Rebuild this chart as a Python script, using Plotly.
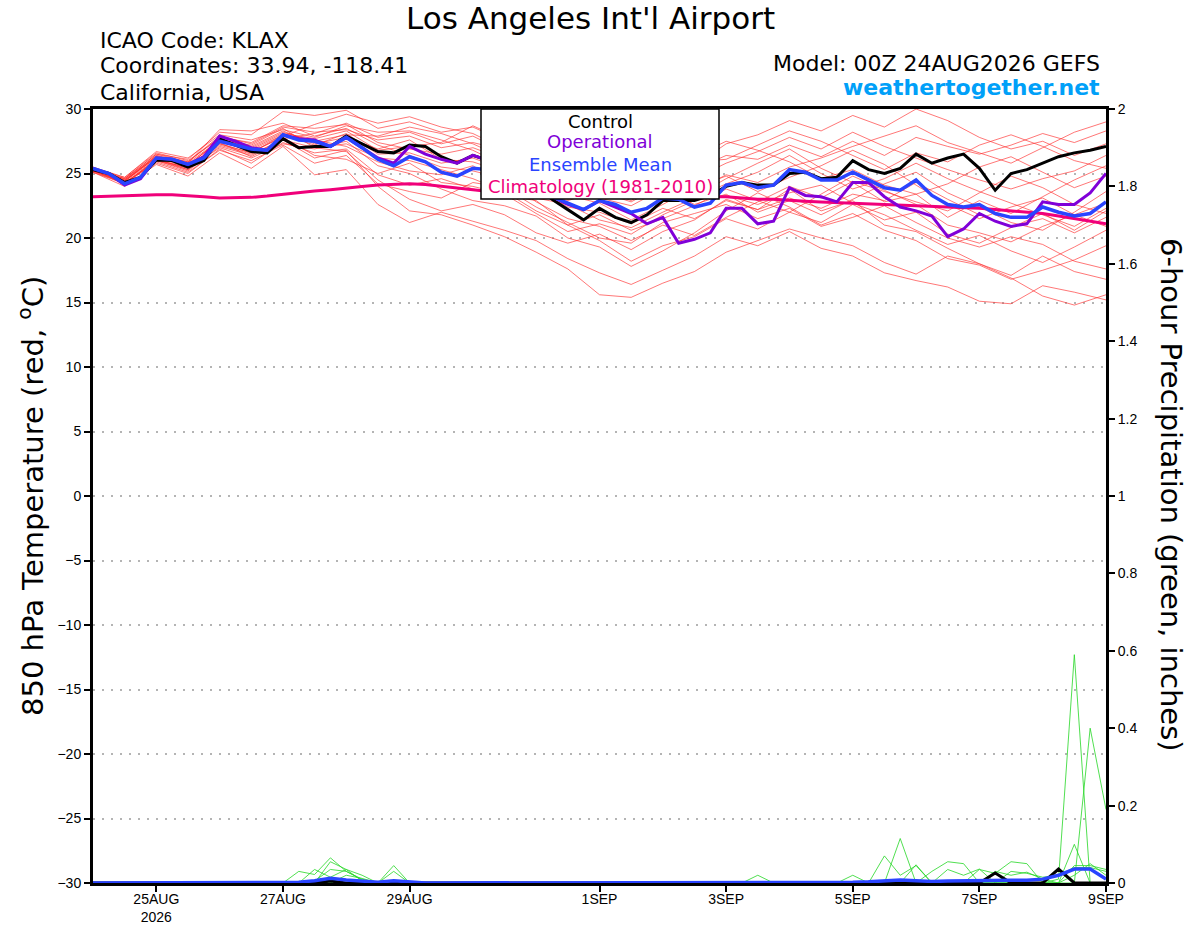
import pandas as pd
import plotly.graph_objects as go

# ---------------- time axis (6-hourly, 00Z 24AUG2026 -> 00Z 09SEP2026) ----------------
times = pd.date_range("2026-08-24 00:00", periods=65, freq="6h")
times12 = times[::2]

tick_dates = ["2026-08-25", "2026-08-27", "2026-08-29", "2026-09-01",
              "2026-09-03", "2026-09-05", "2026-09-07", "2026-09-09"]
tick_labels = ["25AUG<br>2026", "27AUG", "29AUG", "1SEP", "3SEP", "5SEP", "7SEP", "9SEP"]

# ---------------- 850 hPa temperature (C), 6-hourly ----------------
control = [25.3, 25.0, 24.3, 24.7, 26.05, 26.0, 25.5, 26.0, 27.7, 27.2,
           26.7, 26.6, 27.7, 27.0, 27.1, 27.1, 27.9, 27.3, 26.7, 26.6,
           27.2, 27.1, 26.3, 25.8, 26.4, 26.0, 25.4, 24.8, 24.0, 23.0,
           22.2, 21.4, 22.3, 21.6, 21.2, 21.8, 22.9, 22.9, 22.9, 23.3,
           24.0, 24.3, 24.1, 24.1, 25.0, 25.1, 24.6, 24.7, 26.0, 25.3,
           25.0, 25.4, 26.5, 25.8, 26.2, 26.5, 25.4, 23.7, 25.0, 25.3,
           25.8, 26.3, 26.6, 26.8, 27.1]

operational = [25.4, 25.0, 24.1, 24.6, 26.2, 26.1, 25.7, 26.3, 27.9, 27.5,
               27.0, 26.8, 28.0, 27.7, 27.6, 27.1, 27.8, 27.0, 26.2, 25.8,
               27.1, 26.5, 26.1, 25.8, 26.4, 26.0, 25.5, 24.8, 24.0, 23.2,
               22.6, 22.2, 22.9, 22.4, 21.9, 21.1, 21.6, 19.6, 19.9, 20.4,
               22.3, 22.3, 21.1, 21.3, 23.9, 23.3, 23.2, 22.8, 24.3, 24.3,
               23.2, 22.4, 22.1, 21.7, 20.1, 20.7, 21.9, 21.3, 20.9, 21.1,
               22.8, 22.6, 22.6, 23.5, 25.0]

ens_mean = [25.4, 25.0, 24.2, 24.7, 26.2, 26.1, 25.7, 26.2, 27.5, 27.2,
            26.9, 26.8, 28.0, 27.6, 27.5, 27.1, 27.8, 27.0, 26.1, 25.6,
            26.3, 25.9, 25.1, 24.8, 25.4, 25.3, 24.9, 24.4, 23.8, 23.2,
            22.7, 22.2, 22.9, 22.6, 22.0, 22.3, 23.1, 23.0, 22.4, 22.7,
            24.1, 24.3, 23.9, 24.1, 25.3, 25.1, 24.5, 24.5, 25.1, 24.5,
            23.9, 23.7, 24.5, 23.3, 22.6, 22.4, 22.6, 21.9, 21.6, 21.6,
            22.4, 22.0, 21.7, 21.9, 22.8]

climatology = [23.2, 23.25, 23.3, 23.3, 23.35, 23.35, 23.3, 23.2, 23.1, 23.1,
               23.15, 23.25, 23.4, 23.5, 23.65, 23.75, 23.9, 24.0, 24.1, 24.15,
               24.2, 24.15, 24.0, 23.85, 23.7, 23.6, 23.55, 23.5, 23.45, 23.4,
               23.35, 23.3, 23.3, 23.3, 23.25, 23.2, 23.2, 23.2, 23.2, 23.2,
               23.2, 23.1, 23.0, 23.0, 22.9, 22.85, 22.8, 22.75, 22.7, 22.7,
               22.6, 22.55, 22.5, 22.45, 22.4, 22.35, 22.3, 22.2, 22.1, 22.0,
               21.9, 21.7, 21.5, 21.3, 21.1]

# ---------------- ensemble members (12-hourly) ----------------
m01 = [25.2,24.5,26.4,25.9,27.9,27.3,28.6,28.2,28.4,27.6,27.9,27.0,27.4,26.8,25.9,24.8,24.2,23.5,24.6,25.3,26.4,26.1,27.2,26.3,27.5,26.4,27.8,27.1,26.5,27.2,28.1,27.4,28.3]
m02 = [25.5,24.1,26.0,25.3,27.2,26.5,27.6,27.0,26.7,24.5,23.0,22.1,22.6,21.8,20.4,19.6,20.3,19.1,20.5,21.4,23.0,22.2,23.8,22.1,22.9,21.0,20.5,19.2,18.0,17.1,18.6,17.4,16.8]
m03 = [25.3,24.6,26.5,26.1,28.2,28.0,29.8,29.5,29.9,28.5,29.0,28.2,28.6,27.5,26.0,25.1,25.9,24.7,26.2,25.6,27.3,28.0,29.1,28.3,29.5,28.6,30.0,29.1,27.8,26.9,27.5,26.4,27.3]
m04 = [25.1,24.3,25.8,25.0,26.9,25.8,27.4,26.6,26.9,24.9,24.1,24.6,23.8,23.3,22.9,21.0,19.8,18.2,19.4,20.1,21.5,20.7,22.0,21.2,22.6,21.4,22.0,20.3,19.6,20.8,21.9,20.6,22.1]
m05 = [25.4,24.4,26.3,25.6,27.6,27.1,28.3,27.3,27.8,26.9,27.6,26.1,25.9,25.1,23.6,22.9,23.6,22.8,24.1,23.2,24.6,25.8,26.9,25.4,24.3,22.8,23.4,21.6,22.9,21.9,23.2,24.5,25.6]
m06 = [25.2,24.2,26.1,25.4,27.3,26.6,27.9,28.8,29.6,28.9,29.4,28.6,28.1,26.9,25.3,23.8,23.1,22.5,23.8,22.6,23.4,22.0,22.9,21.8,23.0,24.2,25.1,23.5,22.4,21.2,20.6,22.0,23.6]
m07 = [25.3,24.5,26.2,25.8,28.4,28.3,28.9,27.9,28.5,27.2,26.4,25.5,25.2,24.6,22.8,21.5,20.9,19.8,21.0,20.2,21.6,22.8,24.0,23.1,24.4,23.6,22.8,22.1,23.5,24.8,23.9,22.6,21.9]
m08 = [25.4,24.7,26.6,26.0,27.7,27.0,28.2,27.5,28.0,27.9,28.6,28.1,27.3,26.2,24.9,24.0,24.8,23.9,25.2,24.6,25.8,26.7,27.8,26.9,28.2,27.1,26.2,25.3,24.5,23.8,24.6,25.2,26.4]
m09 = [25.1,24.0,25.7,24.8,26.6,25.4,27.1,24.9,25.3,22.6,21.2,22.0,21.3,20.6,19.8,18.4,17.3,16.4,17.5,18.6,20.1,19.4,20.5,19.2,18.6,17.3,16.7,16.2,15.1,14.9,16.3,15.8,15.2]
m10 = [25.3,24.3,26.0,25.5,27.4,26.9,28.1,27.7,28.3,26.8,27.1,27.4,28.7,27.6,26.4,25.2,24.6,23.8,25.1,26.3,27.5,26.8,25.9,24.6,25.3,24.1,23.4,24.2,25.5,26.3,25.1,23.9,24.8]
m11 = [25.2,24.4,26.3,25.7,27.5,26.7,27.8,26.4,26.1,25.0,25.8,24.3,24.0,23.4,21.9,20.5,21.1,20.3,21.8,22.9,23.3,22.6,23.5,24.1,22.7,21.8,20.6,19.5,20.2,19.0,18.1,19.3,20.6]
m12 = [25.4,24.6,26.5,25.9,27.8,27.4,28.7,28.5,28.8,27.4,26.9,26.5,27.0,26.1,24.6,23.3,22.7,21.4,22.6,23.9,24.8,23.6,24.7,25.6,26.8,25.7,24.1,22.6,21.5,22.4,23.1,21.8,20.9]
m13 = [25.3,24.2,26.1,25.3,27.0,26.2,27.3,26.9,27.5,25.6,25.0,23.8,22.9,22.5,21.7,20.0,19.3,17.8,19.0,20.4,22.1,23.5,22.4,21.0,21.9,20.6,19.8,18.4,17.9,16.8,17.5,18.3,19.4]
m14 = [25.5,24.7,26.7,26.2,28.0,27.6,28.4,27.8,28.7,28.2,28.3,27.6,26.8,25.6,24.2,23.0,23.8,22.9,24.4,23.6,24.9,24.3,25.5,26.2,27.1,27.9,28.7,27.4,26.6,25.8,27.0,28.2,29.0]
m15 = [25.2,24.3,25.9,25.1,26.8,26.0,27.2,25.8,26.4,24.2,23.6,23.1,24.3,23.9,22.4,21.2,20.0,19.6,21.2,21.9,22.6,21.5,22.3,20.9,21.6,22.5,21.2,20.0,19.3,20.1,19.5,18.2,17.6]
m16 = [25.4,24.4,26.4,25.6,27.6,26.8,28.0,27.2,28.1,26.5,26.6,25.8,26.2,25.3,23.8,22.4,22.0,21.1,22.3,21.5,22.9,22.2,23.1,22.3,23.4,22.9,24.3,23.0,21.8,20.9,21.5,20.4,21.6]
m17 = [25.3,24.5,26.2,25.5,27.3,26.6,28.0,27.6,27.1,25.9,25.2,24.9,25.6,24.2,23.1,22.6,21.4,20.8,22.0,23.1,24.2,25.1,26.4,25.0,23.8,24.6,25.8,24.6,23.6,22.7,21.8,20.9,22.3]
m18 = [25.1,24.2,26.0,25.2,27.1,26.4,27.7,28.1,28.9,27.8,28.2,27.3,27.9,26.7,25.6,24.4,24.1,23.2,24.7,25.9,26.1,27.2,28.3,27.5,26.4,25.3,26.6,25.9,27.2,28.0,27.1,26.0,25.4]
m19 = [25.3,24.6,26.3,25.8,27.6,27.2,28.5,27.0,27.3,26.2,26.0,25.3,24.6,23.6,22.1,21.0,21.8,20.6,21.5,22.5,23.8,22.9,22.0,23.4,24.8,23.7,22.6,21.0,20.4,19.7,20.9,21.8,22.7]
m20 = [25.2,24.4,26.1,25.4,27.4,26.3,27.6,26.2,26.8,24.0,22.1,21.8,21.0,20.1,18.9,17.6,15.6,15.4,16.5,17.4,18.9,19.8,20.7,20.0,19.4,18.1,17.2,18.6,18.0,16.9,15.5,14.8,15.6]
members = [m01, m02, m03, m04, m05, m06, m07, m08, m09, m10,
           m11, m12, m13, m14, m15, m16, m17, m18, m19, m20]

# ---------------- 6-hour precipitation (inches), 6-hourly ----------------
p01 = [0,0,0,0,0,0,0,0,0,0,0,0,0,
       0.03,0.022,0.065,0.03,0.01,0,0,0,0,0,0,0,0,
       0,0,0,0,0,0,0,0,0,0,0,0,0,
       0,0,0,0,0,0,0,0,0,0,0,0,0,
       0,0,0,0,0,0,0,0,0,0.01,0.59,0,0]
p02 = [0,0,0,0,0,0,0,0,0,0,0,0,0,
       0,0,0.055,0.035,0.005,0,0.045,0,0,0,0,0,0,
       0,0,0,0,0,0,0,0,0,0,0,0,0,
       0,0,0,0,0,0,0,0,0,0,0,0.07,0.02,
       0.045,0,0,0,0,0,0,0,0,0,0,0.40,0.19]
p03 = [0,0,0,0,0,0,0,0,0,0,0,0,0,
       0,0.035,0.015,0.035,0.02,0,0.03,0,0,0,0,0,0,
       0,0,0,0,0,0,0,0,0,0,0,0,0,
       0,0,0,0,0,0,0,0,0,0,0,0,0.115,
       0,0,0,0,0.035,0.025,0.055,0.05,0,0,0.10,0,0]
p04 = [0,0,0,0,0,0,0,0,0,0,0,0,0,
       0,0.005,0.035,0.03,0.008,0,0,0,0,0,0,0,0,
       0,0,0,0,0,0,0,0,0,0,0,0,0,
       0,0,0,0,0,0,0,0,0,0.02,0,0,0,
       0,0.03,0.055,0.05,0,0,0,0,0,0,0.045,0.045,0.035]
p05 = [0,0,0,0,0,0,0,0,0,0,0,0,0,
       0,0,0,0.02,0.012,0,0,0,0,0,0,0,0,
       0,0,0,0,0,0,0,0,0,0,0,0,0,
       0,0,0,0,0,0,0,0,0,0,0,0,0,
       0.047,0,0.035,0.02,0.036,0,0.03,0.025,0.015,0.02,0.04,0.04,0.03]
p06 = [0,0,0,0,0,0,0,0,0,0,0,0,0,
       0,0,0,0,0,0,0,0,0,0,0,0,0,
       0,0,0,0,0,0,0,0,0,0,0,0,0,
       0,0,0,0.02,0,0,0,0,0,0,0,0,0,
       0,0,0,0,0,0.03,0.02,0.028,0.01,0,0.02,0.05,0.02]
precip_members = [p01, p02, p03, p04, p05, p06]

precip_control = [0,0,0,0,0,0,0,0,0,0,0,0,0,
                  0,0,0.005,0,0,0,0,0,0,0,0,0,0,
                  0,0,0,0,0,0,0,0,0,0,0,0,0,
                  0,0,0,0,0,0,0,0,0,0,0,0,0,
                  0,0,0,0,0,0.026,0,0,0,0.036,0,0,0]
precip_mean = [0,0,0,0,0,0,0,0,0,0,0,0,0,
               0.002,0.006,0.012,0.008,0.004,0.002,0.006,0.003,0,0,0,0,0,
               0,0,0,0,0,0,0,0,0,0,0,0,0,
               0,0,0,0.001,0,0,0,0,0,0.002,0.003,0.006,0.008,
               0.006,0.004,0.005,0.006,0.005,0.006,0.007,0.007,0.01,0.02,0.036,0.036,0.01]

# ---------------- styles ----------------
RED = "rgba(255,45,45,0.72)"
GREEN = "rgba(40,215,40,0.9)"
BLACK = "#000000"
PURPLE = "#8000D8"
BLUE = "#2A44FF"
PINK = "#F0007A"
SITE = "#00A0F8"
FONT = "DejaVu Sans"

fig = go.Figure()

for m in members:
    fig.add_trace(go.Scatter(x=times12, y=m, mode="lines",
                             line=dict(color=RED, width=0.9), hoverinfo="skip"))

for p in precip_members:
    fig.add_trace(go.Scatter(x=times, y=p, mode="lines", yaxis="y2",
                             line=dict(color=GREEN, width=0.9), hoverinfo="skip"))

fig.add_trace(go.Scatter(x=times, y=climatology, mode="lines",
                         line=dict(color=PINK, width=3)))
fig.add_trace(go.Scatter(x=times, y=control, mode="lines",
                         line=dict(color=BLACK, width=3)))
fig.add_trace(go.Scatter(x=times, y=operational, mode="lines",
                         line=dict(color=PURPLE, width=3)))
fig.add_trace(go.Scatter(x=times, y=ens_mean, mode="lines",
                         line=dict(color=BLUE, width=3.5)))
fig.add_trace(go.Scatter(x=times, y=precip_control, mode="lines", yaxis="y2",
                         line=dict(color=BLACK, width=3)))
fig.add_trace(go.Scatter(x=times, y=precip_mean, mode="lines", yaxis="y2",
                         line=dict(color=BLUE, width=3.5)))

L, R, T, B = 93, 1106, 109, 883
W, H = 1200, 927


def px(xp):
    return (xp - L) / (R - L)


def py(yp):
    return (B - yp) / (B - T)


annotations = [
    dict(text="Los Angeles Int'l Airport", x=px(590), y=py(18), xanchor="center",
         yanchor="middle", font=dict(family=FONT, size=31, color="black")),
    dict(text="ICAO Code: KLAX", x=px(98), y=py(40), xanchor="left",
         yanchor="middle", font=dict(family=FONT, size=22, color="black")),
    dict(text="Coordinates: 33.94, -118.41", x=px(98), y=py(66), xanchor="left",
         yanchor="middle", font=dict(family=FONT, size=22, color="black")),
    dict(text="California, USA", x=px(98), y=py(92), xanchor="left",
         yanchor="middle", font=dict(family=FONT, size=22, color="black")),
    dict(text="Model: 00Z 24AUG2026 GEFS", x=px(1102), y=py(64), xanchor="right",
         yanchor="middle", font=dict(family=FONT, size=22, color="black")),
    dict(text="<b>weathertogether.net</b>", x=px(1102), y=py(88), xanchor="right",
         yanchor="middle", font=dict(family=FONT, size=22, color=SITE)),
    dict(text="Control", x=px(600), y=py(121), xanchor="center", yanchor="middle",
         font=dict(family=FONT, size=18, color=BLACK)),
    dict(text="Operational", x=px(600), y=py(142), xanchor="center", yanchor="middle",
         font=dict(family=FONT, size=18, color=PURPLE)),
    dict(text="Ensemble Mean", x=px(600), y=py(164), xanchor="center", yanchor="middle",
         font=dict(family=FONT, size=18, color=BLUE)),
    dict(text="Climatology (1981-2010)", x=px(600), y=py(186), xanchor="center",
         yanchor="middle", font=dict(family=FONT, size=18, color=PINK)),
    dict(text="850 hPa Temperature (red, <sup>o</sup>C)", x=px(31), y=py(496),
         xanchor="center", yanchor="middle", textangle=-90,
         font=dict(family=FONT, size=29, color="black")),
    dict(text="6-hour Precipitation (green, inches)", x=px(1171), y=py(495),
         xanchor="center", yanchor="middle", textangle=90,
         font=dict(family=FONT, size=29, color="black")),
]
for a in annotations:
    a.update(xref="paper", yref="paper", showarrow=False)

fig.update_layout(
    width=W, height=H, autosize=False,
    margin=dict(l=L, r=W - R, t=T, b=H - B, pad=0, autoexpand=False),
    paper_bgcolor="white", plot_bgcolor="white", showlegend=False,
    font=dict(family="Liberation Sans, Arial", size=14, color="black"),
    xaxis=dict(type="date", range=["2026-08-24 00:00:00", "2026-09-09 00:00:00"],
               tickvals=tick_dates, ticktext=tick_labels, ticks="outside",
               ticklen=6, tickwidth=1.5, tickcolor="black", showline=True,
               linewidth=3, linecolor="black", mirror=True, showgrid=False,
               zeroline=False, tickfont=dict(size=14), automargin=False,
               ticklabelstandoff=-5),
    yaxis=dict(range=[-30, 30], tick0=-30, dtick=5, ticks="outside", ticklen=6,
               tickwidth=1.5, tickcolor="black", showline=True, linewidth=3,
               linecolor="black", showgrid=True, gridcolor="#b4b4b4",
               griddash="2px,7px", gridwidth=2, zeroline=False,
               tickfont=dict(size=14), automargin=False),
    yaxis2=dict(range=[0, 2], tick0=0, dtick=0.2, overlaying="y", side="right",
                ticks="outside", ticklen=6, tickwidth=1.5, tickcolor="black",
                showline=True, linewidth=3, linecolor="black", showgrid=False,
                zeroline=False, tickfont=dict(size=14), automargin=False),
    shapes=[dict(type="rect", xref="paper", yref="paper",
                 x0=px(481), x1=px(719), y0=py(199), y1=py(109),
                 fillcolor="white", line=dict(color="black", width=1.5),
                 layer="above")],
    annotations=annotations,
)

fig.write_html("out.html", config={"displayModeBar": False},
               post_script="document.body.style.margin='0';")
